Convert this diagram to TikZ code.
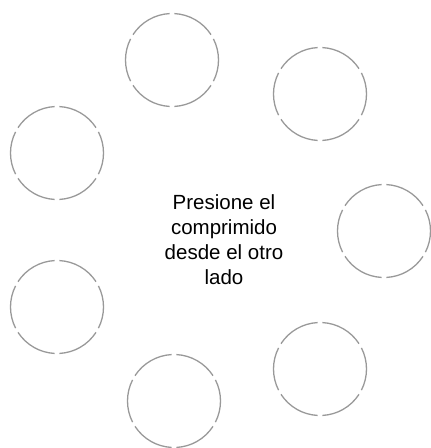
\documentclass[tikz,border=0pt]{standalone}
\usepackage{fontspec}
\setmainfont{Liberation Sans}
\tikzset{
  ring/.style={draw=black!40, line width=1.3pt, line cap=butt},
  label/.style={align=center, font=\fontsize{20.5}{25}\selectfont, text=black, inner sep=0pt}
}
\begin{document}
\begin{tikzpicture}[x=1pt,y=-1pt]
\useasboundingbox (0,0) rectangle (431,448);
\coordinate (c1) at (172,60);
\coordinate (c2) at (320,94);
\coordinate (c3) at (57,153);
\coordinate (c4) at (384,231);
\coordinate (c5) at (57,307);
\coordinate (c6) at (174,401);
\coordinate (c7) at (320,369);
\foreach \c in {c1,c2,c3,c4,c5,c6,c7}{
  \foreach \a in {30,90,150,210,270,330}{
    \draw[ring] (\c) ++(\a+3:46.5) arc[start angle=\a+3, end angle=\a+57, radius=46.5];
  }
}
\node[label] (txt) at (224,240) {Presione el\\comprimido\\desde el otro\\lado};
\end{tikzpicture}
\end{document}
